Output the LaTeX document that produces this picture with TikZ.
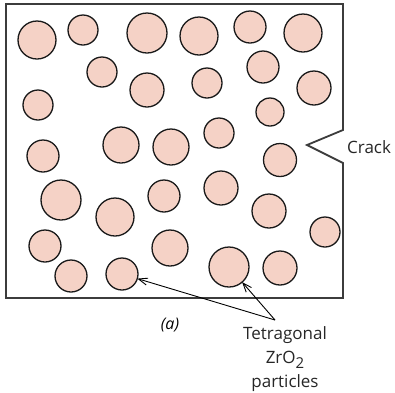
\documentclass[tikz,border=0pt]{standalone}
\usepackage{fontspec}
\setmainfont{Open Sans}
\usetikzlibrary{arrows.meta}
\definecolor{partfill}{HTML}{F5D2C6}
\definecolor{boxline}{HTML}{3C3C3C}
\begin{document}
\begin{tikzpicture}[x=1pt,y=-1pt,
  particle/.style={circle,draw=black!90,line width=1.3pt,fill=partfill,inner sep=0pt,outer sep=0pt,minimum size={2*#1pt}},
  specimen/.style={draw=boxline,line width=1.8pt,line join=miter},
  lbl/.style={inner sep=0pt,text=black!85,font=\fontsize{17}{24}\selectfont},
  ptr/.style={draw=black,line width=0.9pt,-{Straight Barb[length=9pt,width=7pt,line width=0.9pt]}}]
\useasboundingbox (0,0) rectangle (395,392);
% specimen outline with crack
\draw[specimen] (6,4) -- (343,4) -- (343,130) -- (307,145) -- (343,163) -- (343,298) -- (6,298) -- cycle;
% particles
\foreach \n/\x/\y/\r in {
  1/37/40/19, 2/83/30/15, 3/147/33/20, 4/199/36/19, 5/250/27/16, 6/303/33/19,
  7/102/72/15, 8/147/90/17, 9/207/83/15, 10/263/67/16, 11/314/88/17,
  12/38/105/15, 13/270/112/14,
  14/121/145/18, 15/171/147/18, 16/219/133/15, 17/280/160/16.5, 18/43/156/16,
  19/61/200/20, 20/115/217/19, 21/164/196/16, 22/221/188/17, 23/269/211/17, 24/325/232/15,
  25/45/246/16, 26/71/276/16, 27/122/274/16, 28/170/248/18, 29/229/267/20, 30/280/268/17}
  \node[particle=\r] (c\n) at (\x,\y) {};
% labels
\node[lbl,anchor=west] (crack) at (347,147) {Crack};
\node[lbl,align=center,anchor=north] (tzp) at (285,326)
  {Tetragonal\\ZrO\raisebox{-5pt}{\fontsize{15}{15}\selectfont 2}\\particles};
\node[lbl,text=black,font=\fontsize{16}{16}\selectfont\itshape] (fig) at (170,325) {(a)};
\coordinate (tip) at (275,320);
\draw[ptr] (tip) -- (c27);
\draw[ptr] (tip) -- (c29);
\end{tikzpicture}
\end{document}
